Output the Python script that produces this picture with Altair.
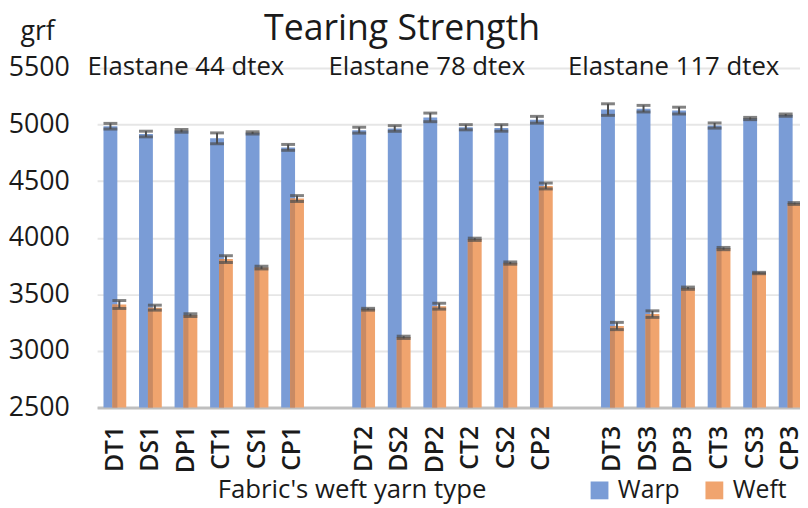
import altair as alt
import pandas as pd

# ---------------- data ----------------
categories = ["DT1", "DS1", "DP1", "CT1", "CS1", "CP1", " ",
              "DT2", "DS2", "DP2", "CT2", "CS2", "CP2", "  ",
              "DT3", "DS3", "DP3", "CT3", "CS3", "CP3"]
fabrics = ["DT1", "DS1", "DP1", "CT1", "CS1", "CP1",
           "DT2", "DS2", "DP2", "CT2", "CS2", "CP2",
           "DT3", "DS3", "DP3", "CT3", "CS3", "CP3"]
warp = [4985, 4916, 4944, 4878, 4926, 4798,
        4950, 4965, 5063, 4976, 4970, 5042,
        5132, 5140, 5123, 4991, 5053, 5083]
warp_err = [25, 25, 12, 48, 10, 26,
            26, 25, 38, 23, 29, 30,
            51, 29, 30, 23, 10, 10]
weft = [3410, 3382, 3316, 3811, 3736, 4346,
        3368, 3120, 3395, 3986, 3776, 4457,
        3220, 3325, 3554, 3904, 3688, 4302]
weft_err = [35, 22, 12, 30, 12, 26,
            8, 10, 26, 10, 10, 26,
            32, 29, 10, 10, 6, 8]
series = ["Warp", "Weft"]
colors = ["#7a9cd6", "#f0a46e"]
group_labels = ["Elastane 44 dtex", "Elastane 78 dtex", "Elastane 117 dtex"]
group_anchor = ["DP1", "DP2", "DP3"]
group_dx = [0, -8, -10]
y_ticks = [2500, 3000, 3500, 4000, 4500, 5000, 5500]

rows = []
for f, v, e in zip(fabrics, warp, warp_err):
    rows.append({"fabric": f, "series": "Warp", "value": v, "lo": v - e, "hi": v + e})
for f, v, e in zip(fabrics, weft, weft_err):
    rows.append({"fabric": f, "series": "Weft", "value": v, "lo": v - e, "hi": v + e})
df = pd.DataFrame(rows)

FONT = "Open Sans"
TXT = "#1a1a1a"
ERR = "#4d4d4d"

x_enc = alt.X(
    "fabric:N",
    sort=categories,
    scale=alt.Scale(domain=categories, range=[0, 718], paddingInner=0, paddingOuter=0),
    axis=alt.Axis(
        labelAngle=-90, labelFont=FONT, labelFontSize=25, labelFontWeight=600,
        labelColor=TXT, labelPadding=18, labelOverlap=False,
        domain=True, domainColor="#bfbfbf", domainWidth=3, ticks=False, grid=False,
        title="Fabric's weft yarn type", titleFont=FONT, titleFontSize=26,
        titleFontWeight="normal", titleColor=TXT, titleX=257, titleY=91,
        titleAlign="center", titleBaseline="alphabetic",
    ),
)
y_scale = alt.Scale(domain=[2500, 5500], zero=False, nice=False)
y_axis = alt.Axis(
    values=y_ticks, format="d", labelFont=FONT, labelFontSize=27, labelColor=TXT,
    labelPadding=28, grid=True, gridColor="#e6e6e6", gridWidth=2,
    domain=False, ticks=False,
    title="grf", titleAngle=0, titleX=-78, titleY=-29, titleAlign="left",
    titleBaseline="alphabetic", titleFont=FONT, titleFontSize=27,
    titleFontWeight="normal", titleColor=TXT,
)

base = alt.Chart(df)
offsets = {"Warp": -4.5, "Weft": 4.5}

layers = []
for s in series:
    sub = base.transform_filter(alt.datum.series == s)
    layers.append(
        sub.mark_bar(width=14, xOffset=offsets[s]).encode(
            x=x_enc,
            y=alt.Y("value:Q", scale=y_scale, axis=y_axis),
            y2=alt.datum(2500),
            color=alt.Color(
                "series:N",
                scale=alt.Scale(domain=series, range=colors),
                legend=alt.Legend(
                    orient="none", legendX=495, legendY=414, direction="horizontal",
                    title=None, symbolType="square", symbolSize=324,
                    symbolStrokeWidth=0, labelFont=FONT, labelFontSize=25,
                    labelColor=TXT, columnPadding=22, labelOffset=6,
                ),
            ),
        )
    )
    if s == "Weft":
        # darker overlap strip of the weft bar
        layers.append(
            sub.mark_bar(width=5, xOffset=0, color="#c98a63").encode(
                x=x_enc, y=alt.Y("value:Q", scale=y_scale), y2=alt.datum(2500)
            )
        )

for s in series:
    sub = base.transform_filter(alt.datum.series == s)
    layers.append(
        sub.mark_rule(xOffset=offsets[s], strokeWidth=2, color=ERR).encode(
            x=x_enc, y=alt.Y("lo:Q", scale=y_scale), y2="hi:Q"
        )
    )
    for fld in ["lo", "hi"]:
        layers.append(
            sub.mark_tick(xOffset=offsets[s], size=14, thickness=3, color=ERR, orient="horizontal").encode(
                x=x_enc, y=alt.Y(f"{fld}:Q", scale=y_scale)
            )
        )

for lab, anc, dx in zip(group_labels, group_anchor, group_dx):
    tdf = pd.DataFrame({"fabric": [anc], "label": [lab]})
    layers.append(
        alt.Chart(tdf).mark_text(
            font=FONT, fontSize=26, color=TXT, baseline="alphabetic", dy=7, dx=dx
        ).encode(x=x_enc, y=alt.datum(5500), text="label:N")
    )

chart = alt.layer(*layers).properties(
    width=710,
    height=343,
    background="white",
    title=alt.TitleParams(
        "Tearing Strength", font=FONT, fontSize=36, fontWeight="normal",
        color=TXT, anchor="middle", frame="group", dx=-47, offset=10, dy=41,
    ),
    autosize=alt.AutoSizeParams(type="none"),
    padding={"left": 90, "top": 58, "right": 0, "bottom": 99},
).configure_view(
    strokeWidth=0, stroke="transparent"
).configure_axisY(
    domain=False, ticks=False
)

chart.save("out.html", embed_options={"renderer": "svg", "actions": False})
